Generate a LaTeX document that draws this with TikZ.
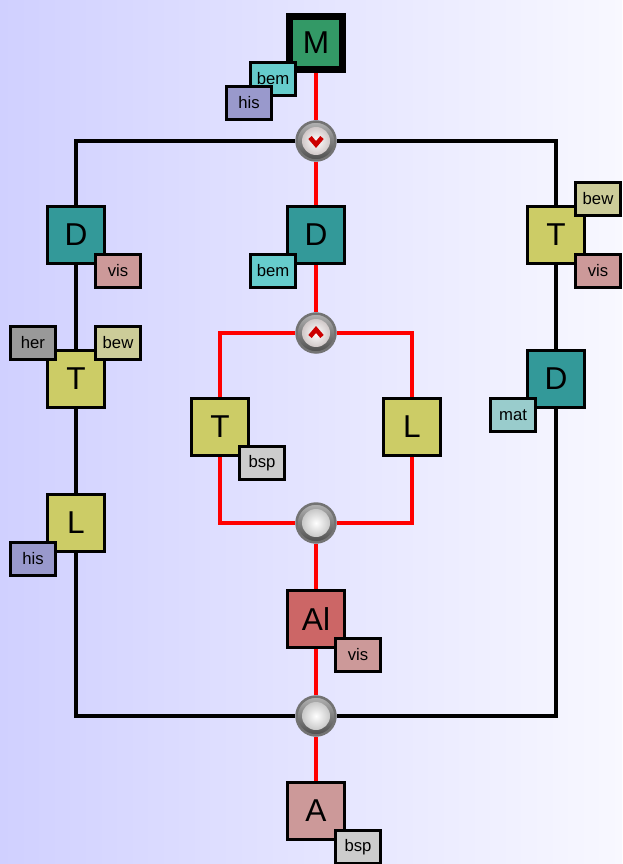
\documentclass[tikz,border=0pt]{standalone}
\usepackage{fontspec}
\setmainfont{Liberation Sans}
\pgfdeclarelayer{bg}
\pgfsetlayers{bg,main}

\definecolor{bgleft}{RGB}{208,208,255}
\definecolor{bgright}{RGB}{248,248,255}
\definecolor{cgreen}{HTML}{339966}
\definecolor{cteal}{HTML}{339999}
\definecolor{colive}{HTML}{CCCC66}
\definecolor{cred}{HTML}{CC6666}
\definecolor{crose}{HTML}{CC9999}
\definecolor{ccyan}{HTML}{66CCCC}
\definecolor{cviolet}{HTML}{9999CC}
\definecolor{cgrey}{HTML}{999999}
\definecolor{cbeige}{HTML}{CCCC99}
\definecolor{csilver}{HTML}{CCCCCC}
\definecolor{cmint}{HTML}{99CCCC}

\tikzset{
	box/.style={draw=black, line width=0.06cm, minimum size=1.14cm, inner sep=0pt, font=\fontsize{18}{20}\selectfont},
	tag/.style={draw=black, line width=0.06cm, minimum width=0.9cm, minimum height=0.66cm, inner sep=0pt, font=\fontsize{9.5}{11}\selectfont},
	wire/.style={line width=0.07cm, black},
	redwire/.style={line width=0.07cm, red},
	junc/.style={circle, inner sep=0pt, minimum size=0.78cm, draw=black!55, line width=0.05cm, top color=black!30, bottom color=black!70,
		path picture={\shade[inner color=white, outer color=black!30] (path picture bounding box.center) circle (0.28cm);}},
	jvee/.style={circle, inner sep=0pt, minimum size=0.78cm, draw=black!55, line width=0.05cm, top color=black!30, bottom color=black!70,
		path picture={\shade[inner color=white, outer color=red!15!black!30] (path picture bounding box.center) circle (0.28cm);
			\draw[red!80!black, line width=0.09cm] ([shift={(-0.12cm,0.07cm)}]path picture bounding box.center) -- ([shift={(0cm,-0.07cm)}]path picture bounding box.center) -- ([shift={(0.12cm,0.07cm)}]path picture bounding box.center);}},
	jwedge/.style={circle, inner sep=0pt, minimum size=0.78cm, draw=black!55, line width=0.05cm, top color=black!30, bottom color=black!70,
		path picture={\shade[inner color=white, outer color=red!15!black!30] (path picture bounding box.center) circle (0.28cm);
			\draw[red!80!black, line width=0.09cm] ([shift={(-0.12cm,-0.07cm)}]path picture bounding box.center) -- ([shift={(0cm,0.07cm)}]path picture bounding box.center) -- ([shift={(0.12cm,-0.07cm)}]path picture bounding box.center);}}
}

\begin{document}
\begin{tikzpicture}[x=0.02cm, y=-0.02cm]
			%%%%% START %%%%%
			\useasboundingbox (0,0) rectangle (622,864);
			\begin{pgfonlayer}{bg}
				\shade[left color=bgleft, right color=bgright] (0,0) rectangle (622,864);
			\end{pgfonlayer}
			
			% junctions
			\node[jvee] (jor) at (316,141) {};
			\node[jwedge] (jand) at (316,333) {};
			\node[junc] (jsplit) at (316,523) {};
			\node[junc] (jend) at (316,716) {};
			
			% middle column
			\node[box, fill=cgreen, line width=0.13cm, minimum size=1.06cm] (m) at (316,43) {M};
			\node[box, fill=cteal] (dm) at (316,235) {D};
			\node[box, fill=colive] (tm) at (220,427) {T};
			\node[box, fill=colive] (lm) at (412,427) {L};
			\node[box, fill=cred] (al) at (316,619) {Al};
			\node[box, fill=crose] (a) at (316,811) {A};
			
			% left column
			\node[box, fill=cteal] (dl) at (76,235) {D};
			\node[box, fill=colive] (tl) at (76,379) {T};
			\node[box, fill=colive] (ll) at (76,523) {L};
			
			% right column
			\node[box, fill=colive] (tr) at (556,235) {T};
			\node[box, fill=cteal] (dr) at (556,379) {D};
			
			% tags
			\node[tag, fill=ccyan] (mbem) at (273,79) {bem};
			\node[tag, fill=cviolet] (mhis) at (249,103) {his};
			\node[tag, fill=ccyan] (dmbem) at (273,271) {bem};
			\node[tag, fill=csilver] (tmbsp) at (262,463) {bsp};
			\node[tag, fill=crose] (alvis) at (358,655) {vis};
			\node[tag, fill=csilver] (absp) at (358,847) {bsp};
			
			\node[tag, fill=crose] (dlvis) at (118,271) {vis};
			\node[tag, fill=cgrey] (tlher) at (33,343) {her};
			\node[tag, fill=cbeige] (tlbew) at (118,343) {bew};
			\node[tag, fill=cviolet] (llhis) at (33,559) {his};
			
			\node[tag, fill=cbeige] (trbew) at (598,199) {bew};
			\node[tag, fill=crose] (trvis) at (598,271) {vis};
			\node[tag, fill=cmint] (drmat) at (513,415) {mat};
			
			\begin{pgfonlayer}{bg}
				% outer loop
				\draw[wire] (jor) -| (dl);
				\draw[wire] (dl) -- (tl) -- (ll);
				\draw[wire] (ll) |- (jend);
				\draw[wire] (jor) -| (tr);
				\draw[wire] (tr) -- (dr);
				\draw[wire] (dr) |- (jend);
				
				% inner path
				\draw[redwire] (m) -- (jor) -- (dm) -- (jand);
				\draw[redwire] (jand) -| (tm);
				\draw[redwire] (jand) -| (lm);
				\draw[redwire] (tm) |- (jsplit);
				\draw[redwire] (lm) |- (jsplit);
				\draw[redwire] (jsplit) -- (al) -- (jend) -- (a);
			\end{pgfonlayer}
			%%%%% END %%%%%
\end{tikzpicture}
\end{document}
